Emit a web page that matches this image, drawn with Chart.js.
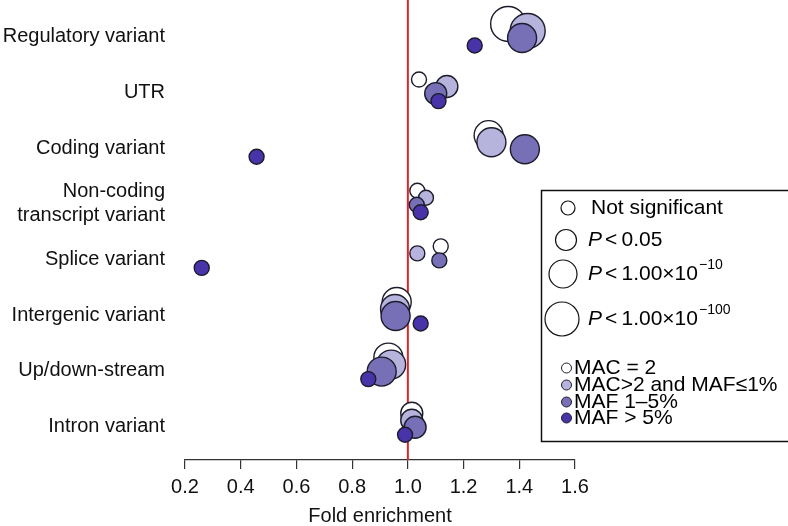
<!DOCTYPE html>
<html>
<head>
<meta charset="utf-8">
<script src="https://cdn.jsdelivr.net/npm/chart.js@4"></script>
<style>
  html, body { margin: 0; padding: 0; background: #fff; }
  canvas { display: block; }
</style>
</head>
<body>
<canvas id="chart" width="788" height="526"></canvas>
<script>
// Variant classes, top to bottom
const categories = [
    'Regulatory variant', 'UTR', 'Coding variant', ['Non-coding', 'transcript variant'],
    'Splice variant', 'Intergenic variant', 'Up/down-stream', 'Intron variant'
];

// Fold enrichment per class, one array per frequency bin
const macTwo    = [1.36, 1.04, 1.29, 1.034, 1.118, 0.96, 0.93, 1.014];
const macRare   = [1.43, 1.14, 1.30, 1.065, 1.034, 0.954, 0.94, 1.014];
const maf1to5   = [1.41, 1.10, 1.42, 1.032, 1.113, 0.956, 0.906, 1.026];
const mafCommon = [1.24, 1.11, 0.457, 1.046, 0.26, 1.046, 0.858, 0.99];

// Significance level: 0 = not significant, 1 = P<0.05, 2 = P<1e-10, 3 = P<1e-100
const sigMacTwo    = [3, 0, 2, 0, 0, 2, 2, 1];
const sigMacRare   = [3, 1, 2, 0, 0, 2, 2, 1];
const sigMaf1to5   = [2, 1, 2, 0, 0, 2, 2, 1];
const sigMafCommon = [0, 0, 0, 0, 0, 0, 0, 0];

const xTicks = [0.2, 0.4, 0.6, 0.8, 1.0, 1.2, 1.4, 1.6];
const sigLabels = ['Not significant', 'P < 0.05', 'P < 1.00\u00d710^-10', 'P < 1.00\u00d710^-100'];
const binLabels = ['MAC = 2', 'MAC>2 and MAF\u22641%', 'MAF 1\u20135%', 'MAF > 5%'];

const radii = [7.5, 11, 14.5, 17.5];
const colors = ['#ffffff', '#b6b3dc', '#7770b6', '#4834a8'];
const rowShift = [0.234, 0.108, -0.018, -0.153];
const FONT = '"Liberation Sans", Arial, sans-serif';
const nCat = categories.length;

function points(values, sig, k) {
    return values.map((v, i) => ({ x: v, y: nCat - i + rowShift[k], r: radii[sig[i]] }));
}

const series = [
    [macTwo, sigMacTwo], [macRare, sigMacRare], [maf1to5, sigMaf1to5], [mafCommon, sigMafCommon]
];

const datasets = series.map(([vals, sig], k) => ({
    label: binLabels[k],
    data: points(vals, sig, k),
    backgroundColor: colors[k],
    borderColor: '#1c1c2c',
    borderWidth: 1.4,
    order: 4 - k
}));

// red reference line at 1.0
const refLine = {
    id: 'refLine',
    beforeDatasetsDraw(chart) {
        const { ctx, chartArea, scales } = chart;
        const x = scales.x.getPixelForValue(1.0);
        ctx.save();
        ctx.strokeStyle = '#e0242a';
        ctx.lineWidth = 2;
        ctx.beginPath();
        ctx.moveTo(x, chartArea.top);
        ctx.lineTo(x, chartArea.bottom);
        ctx.stroke();
        ctx.restore();
    }
};

// boxed legend at right
const sideLegend = {
    id: 'sideLegend',
    afterDraw(chart) {
        const ctx = chart.ctx;
        ctx.save();
        ctx.strokeStyle = '#111';
        ctx.lineWidth = 1.5;
        ctx.strokeRect(541.5, 190.5, 260, 251);

        const sigY = [208, 240, 274, 319];
        const sigX = [568, 566, 563, 562];
        ctx.textBaseline = 'middle';
        sigLabels.forEach((lab, i) => {
            ctx.beginPath();
            ctx.arc(sigX[i], sigY[i], radii[i] - 0.5, 0, Math.PI * 2);
            ctx.fillStyle = '#fff';
            ctx.fill();
            ctx.strokeStyle = '#111';
            ctx.lineWidth = 1.2;
            ctx.stroke();
            ctx.fillStyle = '#000';
            let x = i === 0 ? 591 : 588;
            if (i === 0) {
                ctx.font = '21px ' + FONT;
                ctx.fillText(lab, x, sigY[i]);
                return;
            }
            ctx.font = 'italic 21px ' + FONT;
            ctx.fillText('P', x, sigY[i]);
            x += ctx.measureText('P').width + 3;
            const parts = lab.slice(2).split('^');
            ctx.font = '21px ' + FONT;
            const main = parts[0].replace('< ', '<\u2009');
            ctx.fillText(main, x, sigY[i]);
            if (parts[1]) {
                x += ctx.measureText(main).width + 1;
                ctx.font = '14px ' + FONT;
                ctx.fillText(parts[1].replace('-', '\u2212'), x, sigY[i] - 9);
            }
        });

        const binY = [368, 385, 402, 418];
        binLabels.forEach((lab, k) => {
            ctx.beginPath();
            ctx.arc(566.5, binY[k], 5, 0, Math.PI * 2);
            ctx.fillStyle = colors[k];
            ctx.fill();
            ctx.strokeStyle = '#1c1c2c';
            ctx.lineWidth = 1;
            ctx.stroke();
            ctx.fillStyle = '#000';
            ctx.font = '21px ' + FONT;
            ctx.fillText(lab, 574, binY[k]);
        });
        ctx.restore();
    }
};

new Chart(document.getElementById('chart').getContext('2d'), {
    type: 'bubble',
    data: { datasets },
    options: {
        responsive: false,
        animation: false,
        layout: { autoPadding: false, padding: { left: 0, right: 213, top: 0, bottom: 0 } },
        plugins: { legend: { display: false }, tooltip: { enabled: false } },
        scales: {
            x: {
                type: 'linear',
                min: 0.2,
                max: 1.6,
                afterFit(scale) { scale.height = 66; },
                afterBuildTicks(scale) { scale.ticks = xTicks.map(v => ({ value: v })); },
                ticks: {
                    color: '#111',
                    font: { family: FONT, size: 20 },
                    padding: 6,
                    maxRotation: 0,
                    callback: v => v.toFixed(1)
                },
                grid: { drawOnChartArea: false, drawTicks: true, tickLength: 9, color: '#333', lineWidth: 1.2 },
                border: { display: true, color: '#333', width: 1.2 },
                title: {
                    display: true,
                    text: 'Fold enrichment',
                    color: '#111',
                    font: { family: FONT, size: 20, lineHeight: 1 },
                    padding: { top: 0, bottom: 0 }
                }
            },
            y: {
                type: 'linear',
                min: 0.392,
                max: 8.665,
                afterFit(scale) {
                    scale.width = 185;
                    scale.paddingTop = 0;
                    scale.paddingBottom = 0;
                },
                afterBuildTicks(scale) { scale.ticks = categories.map((c, i) => ({ value: nCat - i })); },
                ticks: {
                    color: '#111',
                    font: { family: FONT, size: 20, lineHeight: 1.2 },
                    padding: 20,
                    callback: v => categories[nCat - v]
                },
                grid: { display: false, drawTicks: false },
                border: { display: false }
            }
        }
    },
    plugins: [refLine, sideLegend]
});
</script>
</body>
</html>
